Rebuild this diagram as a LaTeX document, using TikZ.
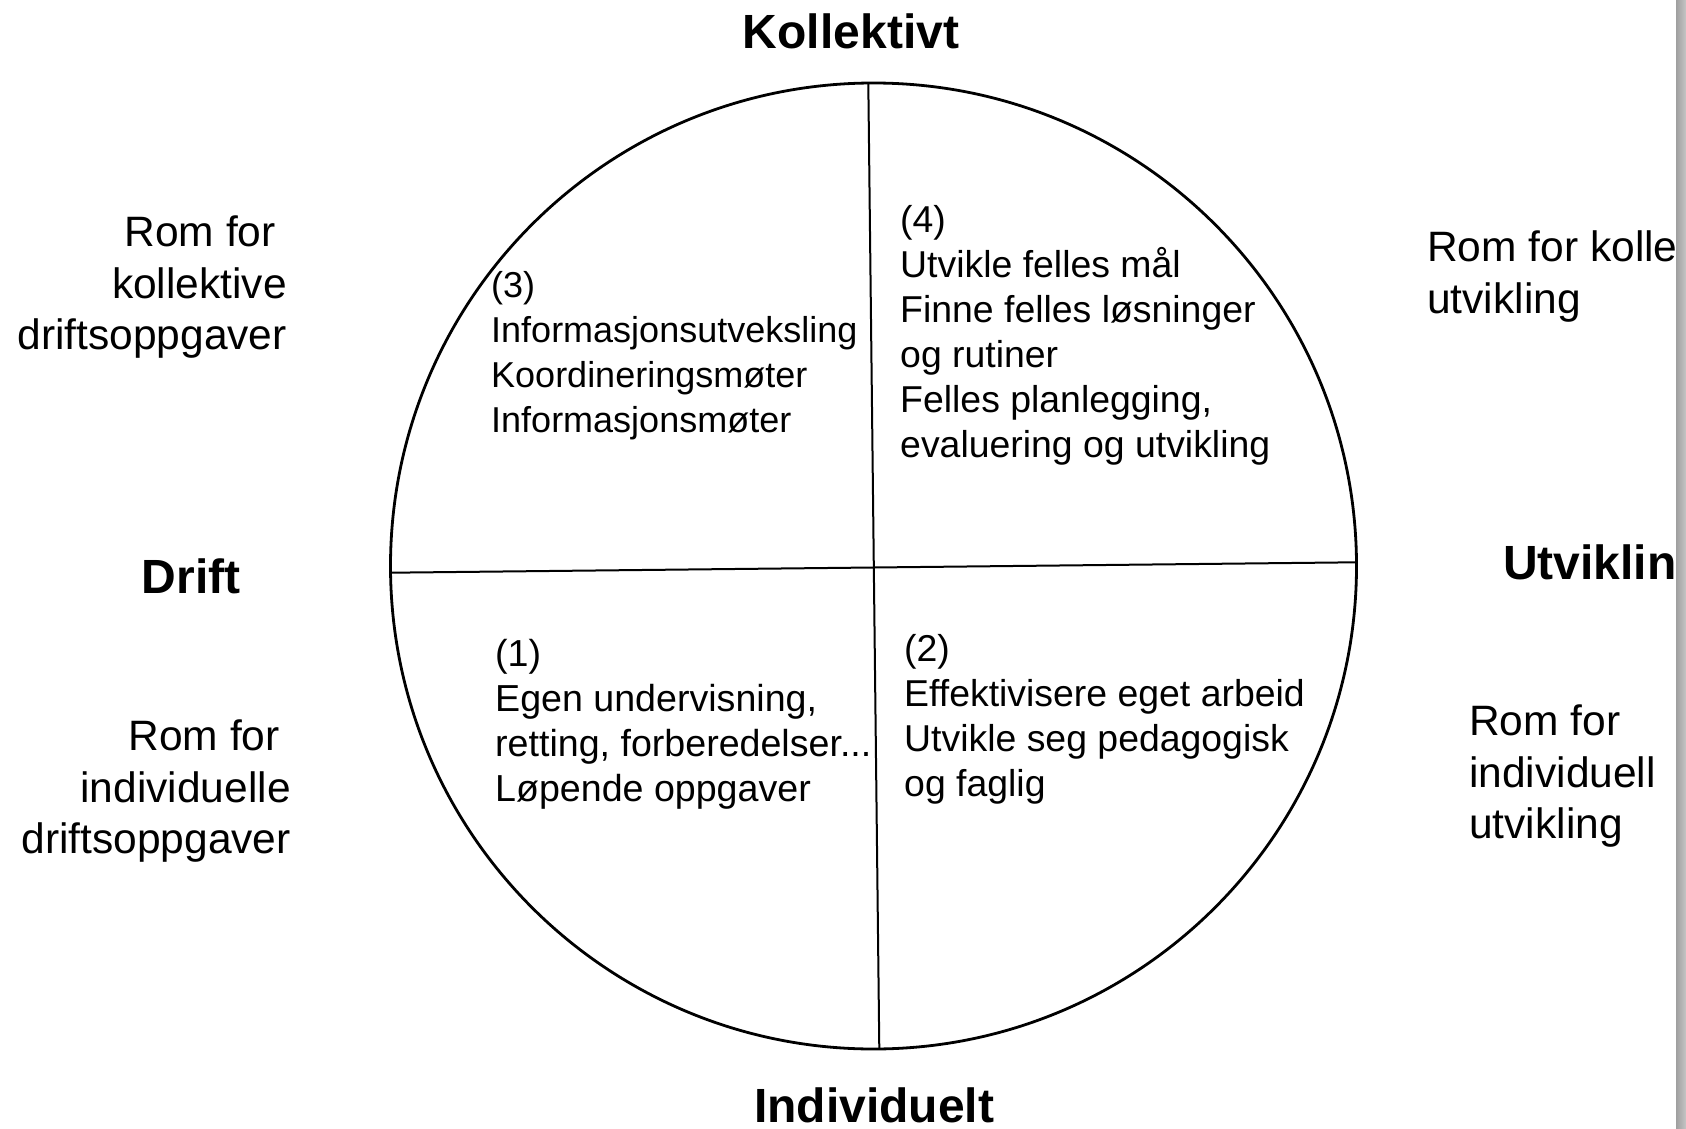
\documentclass[tikz,border=0pt]{standalone}
\usepackage{fontspec}
\setmainfont{Liberation Sans}
\begin{document}
\begin{tikzpicture}[x=1pt,y=-1pt,
  quad/.style={inner sep=0pt,anchor=north west,align=left,font=\fontsize{#1}{45}\selectfont},
  quad/.default=36,
  sidetext/.style={inner sep=0pt,align=#1,font=\fontsize{42.5}{51.5}\selectfont},
  axis/.style={inner sep=0pt,font=\fontsize{48}{56}\bfseries\selectfont},
  divider/.style={line width=2pt,black}]
\useasboundingbox (0,0) rectangle (1686,1129);
\fill[white] (0,0) rectangle (1686,1129);
\begin{scope}
\clip (0,0) rectangle (1676,1129);
% circle
\node[circle,draw,line width=2.8pt,minimum size=966pt,inner sep=0pt] (c) at (873.5,566) {};
\coordinate (vt) at (868.3,83);
\coordinate (vb) at (879.3,1049);
\coordinate (hl) at (391,572.7);
\coordinate (hr) at (1356,562.3);
\draw[divider] (vt) -- (vb);
\draw[divider] (hl) -- (hr);
% axis labels
\node[axis,anchor=north] (kol) at (851,14) {Kollektivt};
\node[axis,anchor=north] (ind) at (874,1088) {Individuelt};
\node[axis,anchor=north] (dri) at (191,559) {Drift};
\node[axis,anchor=north west] (utv) at (1503,545) {Utvikling};
% side texts
\node[sidetext=right,anchor=north east] (rkd) at (287,216) {Rom for\hspace*{11pt}\\kollektive\\driftsoppgaver};
\node[sidetext=right,anchor=north east] (rid) at (291,720) {Rom for\hspace*{11pt}\\individuelle\\driftsoppgaver};
\node[sidetext=left,anchor=north west] (rku) at (1427,231) {Rom for kollektiv\\utvikling};
\node[sidetext=left,anchor=north west] (riu) at (1469,705) {Rom for\\individuell\\utvikling};
% quadrant texts
\node[quad] (q3) at (491,271) {(3)\\Informasjonsutveksling\\Koordineringsmøter\\Informasjonsmøter};
\node[quad=37.4] (q4) at (900,205) {(4)\\Utvikle felles mål\\Finne felles løsninger\\og rutiner\\Felles planlegging,\\evaluering og utvikling};
\node[quad=37.6] (q1) at (495,639) {(1)\\Egen undervisning,\\retting, forberedelser...\\Løpende oppgaver};
\node[quad=37.4] (q2) at (904,634) {(2)\\Effektivisere eget arbeid\\Utvikle seg pedagogisk\\og faglig};
\end{scope}
% scanned page edge
\shade[left color=gray!75,right color=gray!45] (1676,0) rectangle (1686,1129);
\end{tikzpicture}
\end{document}
